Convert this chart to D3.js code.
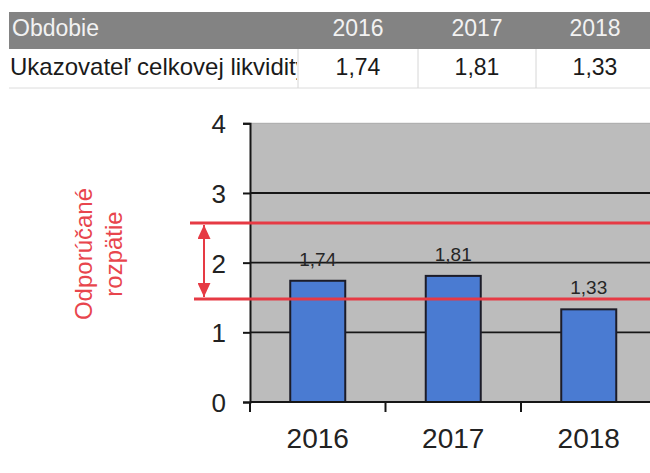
<!DOCTYPE html>
<html><head><meta charset="utf-8">
<script src="https://cdn.jsdelivr.net/npm/d3@7"></script>
<style>
html,body{margin:0;padding:0;background:#fff;}
svg{display:block;font-family:"Liberation Sans",Arial,sans-serif;}
</style></head>
<body>
<svg id="c" width="650" height="473"></svg>
<script>
const categories = ["2016", "2017", "2018"];
const values = [1.74, 1.81, 1.33];
const valueLabels = ["1,74", "1,81", "1,33"];
const yTicks = [0, 1, 2, 3, 4];
const tableHeader = ["Obdobie", "2016", "2017", "2018"];
const tableRowLabel = "Ukazovateľ celkovej likvidity";
const tableRowValues = ["1,74", "1,81", "1,33"];
const recommendedRange = [1.48, 2.57];
const rangeLabel = ["Odporúčané", "rozpätie"];

const svg = d3.select("#c");
const red = "#e63a44";

// ---- table ----
const colX = [9, 298, 418, 536, 654];
const hdrTop = 12, hdrBot = 49, rowBot = 88;
svg.append("rect").attr("x", colX[0]).attr("y", hdrTop)
  .attr("width", 650 - colX[0]).attr("height", hdrBot - hdrTop).attr("fill", "#838383");
svg.append("defs").append("clipPath").attr("id", "cl0")
  .append("rect").attr("x", colX[0]).attr("y", hdrBot).attr("width", colX[1] - colX[0] - 1).attr("height", rowBot - hdrBot);
svg.append("line").attr("x1", colX[0]).attr("x2", 650).attr("y1", rowBot).attr("y2", rowBot)
  .attr("stroke", "#dcdcdc").attr("stroke-width", 1);
for (let i = 1; i < 4; i++) {
  svg.append("line").attr("x1", colX[i]).attr("x2", colX[i]).attr("y1", hdrBot).attr("y2", rowBot)
    .attr("stroke", "#d6d6d6").attr("stroke-width", 1);
}
tableHeader.forEach((t, i) => {
  const isFirst = i === 0;
  svg.append("text")
    .attr("x", isFirst ? 12 : (colX[i] + colX[i + 1]) / 2)
    .attr("y", 36)
    .attr("text-anchor", isFirst ? "start" : "middle")
    .attr("font-size", 23).attr("fill", "#f2f2f2").text(t);
});
svg.append("text").attr("x", 10).attr("y", 75).attr("font-size", 24)
  .attr("fill", "#1a1a1a").attr("clip-path", "url(#cl0)").text(tableRowLabel);
tableRowValues.forEach((t, i) => {
  svg.append("text").attr("x", (colX[i + 1] + colX[i + 2]) / 2).attr("y", 75)
    .attr("text-anchor", "middle").attr("font-size", 23).attr("fill", "#1a1a1a").text(t);
});

// ---- chart ----
const x = d3.scaleBand().domain(categories).range([250, 656.5]).paddingInner(0.594).paddingOuter(0.297);
const y = d3.scaleLinear().domain([0, 4]).range([402, 123.3]);

const g = svg.append("g");
g.append("rect").attr("x", x.range()[0]).attr("y", y(4))
  .attr("width", 650 - x.range()[0]).attr("height", y(0) - y(4)).attr("fill", "#bcbcbc");
g.append("line").attr("x1", 250).attr("x2", 650).attr("y1", y(4)).attr("y2", y(4))
  .attr("stroke", "#a8a8a8").attr("stroke-width", 1);

// gridlines
g.selectAll(".grid").data(yTicks.filter(d => d > 0 && d < 4)).enter().append("line")
  .attr("x1", 250).attr("x2", 650).attr("y1", d => y(d)).attr("y2", d => y(d))
  .attr("stroke", "#161616").attr("stroke-width", 1.8);

// bars
g.selectAll(".bar").data(values).enter().append("rect")
  .attr("x", (d, i) => x(categories[i]))
  .attr("y", d => y(d))
  .attr("width", x.bandwidth())
  .attr("height", d => y(0) - y(d))
  .attr("fill", "#4a7bd2").attr("stroke", "#1c1c28").attr("stroke-width", 2);

// value labels
g.selectAll(".vl").data(values).enter().append("text")
  .attr("x", (d, i) => x(categories[i]) + x.bandwidth() / 2)
  .attr("y", d => y(d) - 15)
  .attr("text-anchor", "middle").attr("font-size", 19).attr("fill", "#262626")
  .text((d, i) => valueLabels[i]);

// y axis
const yAxis = d3.axisLeft(y).tickValues(yTicks).tickSize(7).tickPadding(17).tickFormat(d3.format("d"));
const ya = svg.append("g").attr("transform", "translate(250,0)").call(yAxis);
ya.select(".domain").attr("stroke", "#161616").attr("stroke-width", 2);
ya.selectAll(".tick line").attr("stroke", "#161616").attr("stroke-width", 2);
ya.selectAll(".tick text").attr("font-size", 26).attr("fill", "#222").attr("font-family", "Liberation Sans, Arial, sans-serif").attr("dy", "0.36em");

// x axis
const xa = svg.append("g").attr("transform", `translate(0,${y(0)})`);
xa.append("line").attr("x1", 250).attr("x2", 650).attr("y1", 0).attr("y2", 0)
  .attr("stroke", "#161616").attr("stroke-width", 2);
const boundaries = categories.map(c => x(c) - x.step() * x.paddingInner() / 2);
xa.selectAll(".xt").data(boundaries).enter().append("line")
  .attr("x1", d => d).attr("x2", d => d).attr("y1", 0).attr("y2", 10)
  .attr("stroke", "#161616").attr("stroke-width", 2);
xa.selectAll(".xl").data(categories).enter().append("text")
  .attr("x", d => x(d) + x.bandwidth() / 2).attr("y", 46)
  .attr("text-anchor", "middle").attr("font-size", 28).attr("fill", "#222").text(d => d);

// recommended range
const defs = svg.append("defs");
defs.append("marker").attr("id", "ah").attr("viewBox", "0 0 10 10").attr("refX", 10).attr("refY", 5)
  .attr("markerWidth", 14).attr("markerHeight", 13).attr("markerUnits", "userSpaceOnUse")
  .attr("orient", "auto-start-reverse").attr("preserveAspectRatio", "none")
  .append("path").attr("d", "M0,0 L10,5 L0,10 Z").attr("fill", red);

svg.selectAll(".rl").data(recommendedRange).enter().append("line")
  .attr("x1", (d, i) => i === 0 ? 194 : 190).attr("x2", 650)
  .attr("y1", d => y(d)).attr("y2", d => y(d))
  .attr("stroke", red).attr("stroke-width", 3);
svg.append("line").attr("x1", 204).attr("x2", 204)
  .attr("y1", y(recommendedRange[1]) + 2).attr("y2", y(recommendedRange[0]) - 2)
  .attr("stroke", red).attr("stroke-width", 2)
  .attr("marker-start", "url(#ah)").attr("marker-end", "url(#ah)");

// rotated label
const labelX = [92, 122];
rangeLabel.forEach((t, i) => {
  svg.append("text").attr("transform", `translate(${labelX[i]},254) rotate(-90)`)
    .attr("text-anchor", "middle").attr("font-size", 24).attr("fill", "#e8454d").text(t);
});
</script>
</body></html>
